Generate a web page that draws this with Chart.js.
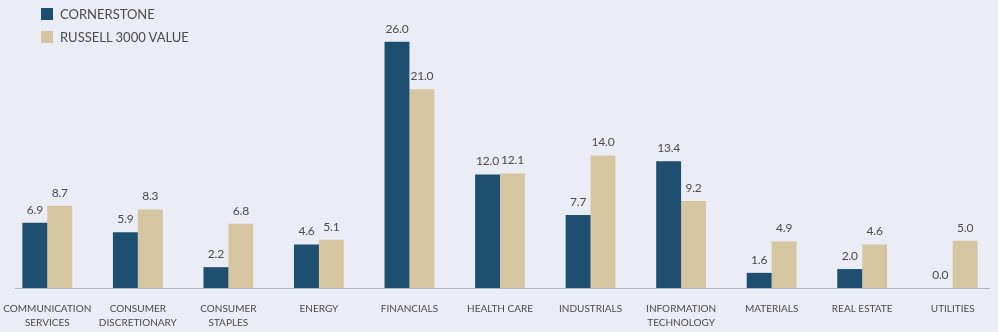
<!DOCTYPE html>
<html>
<head>
<meta charset="utf-8">
<script src="https://cdn.jsdelivr.net/npm/chart.js@4/dist/chart.umd.min.js"></script>
<style>
  html, body { margin: 0; padding: 0; background: #eaedf5; }
  #wrap { position: relative; width: 998px; height: 332px; }
  #legend { position: absolute; left: 41px; top: 8px; font-family: Lato, sans-serif; font-size: 13px; color: #4d4a48; }
  #legend div { height: 23px; display: flex; align-items: flex-start; }
  #legend span.box { display: inline-block; width: 12px; height: 12px; margin-right: 7px; }
  #legend span.txt { line-height: 13px; }
</style>
</head>
<body>
<div id="wrap">
  <canvas id="chart" width="998" height="332"></canvas>
  <div id="legend"></div>
</div>
<script>
const categories = [
  ['COMMUNICATION', 'SERVICES'],
  ['CONSUMER', 'DISCRETIONARY'],
  ['CONSUMER', 'STAPLES'],
  'ENERGY',
  'FINANCIALS',
  'HEALTH CARE',
  'INDUSTRIALS',
  ['INFORMATION', 'TECHNOLOGY'],
  'MATERIALS',
  'REAL ESTATE',
  'UTILITIES'
];
const cornerstone = [6.9, 5.9, 2.2, 4.6, 26.0, 12.0, 7.7, 13.4, 1.6, 2.0, 0.0];
const russell3000Value = [8.7, 8.3, 6.8, 5.1, 21.0, 12.1, 14.0, 9.2, 4.9, 4.6, 5.0];

const BLUE = '#1e4f70';
const TAN = '#d5c6a1';
const TEXT = '#4d4a48';

const valueLabels = {
  id: 'valueLabels',
  afterDatasetsDraw(chart) {
    const ctx = chart.ctx;
    ctx.save();
    ctx.font = '12px Lato, sans-serif';
    ctx.letterSpacing = '-0.2px';
    ctx.fillStyle = TEXT;
    ctx.textAlign = 'center';
    ctx.textBaseline = 'bottom';
    chart.data.datasets.forEach((ds, i) => {
      chart.getDatasetMeta(i).data.forEach((bar, j) => {
        ctx.fillText(ds.data[j].toFixed(1), bar.x, bar.y - 7);
      });
    });
    ctx.restore();
  }
};

const baseLine = {
  id: 'baseLine',
  beforeDatasetsDraw(chart) {
    const { ctx, chartArea } = chart;
    const y = chart.scales.y.getPixelForValue(0);
    ctx.save();
    ctx.strokeStyle = '#b4b6bc';
    ctx.lineWidth = 1;
    ctx.beginPath();
    ctx.moveTo(chartArea.left + 13, y + 0.5);
    ctx.lineTo(chartArea.right - 8, y + 0.5);
    ctx.stroke();
    ctx.restore();
  }
};

const chart = new Chart(document.getElementById('chart'), {
  type: 'bar',
  data: {
    labels: categories,
    datasets: [
      { label: 'CORNERSTONE', data: cornerstone, backgroundColor: BLUE },
      { label: 'RUSSELL 3000 VALUE', data: russell3000Value, backgroundColor: TAN }
    ]
  },
  options: {
    responsive: false,
    animation: false,
    layout: { padding: { top: 4, left: 2, right: 0, bottom: 0 } },
    datasets: { bar: { categoryPercentage: 0.55, barPercentage: 1 } },
    plugins: { legend: { display: false }, tooltip: { enabled: false } },
    scales: {
      x: {
        grid: { display: false, drawTicks: false, tickLength: 0 },
        border: { display: false },
        ticks: {
          padding: 14,
          maxRotation: 0,
          autoSkip: false,
          color: TEXT,
          font: { family: 'Lato, sans-serif', size: 10, lineHeight: 1.4 }
        },
        afterFit(scale) {
          scale.height = 44;
          scale.paddingLeft = 0;
          scale.paddingRight = 0;
        }
      },
      y: {
        display: false,
        min: 0,
        max: 30
      }
    }
  },
  plugins: [valueLabels, baseLine]
});

const legend = document.getElementById('legend');
chart.data.datasets.forEach(ds => {
  const row = document.createElement('div');
  const box = document.createElement('span');
  box.className = 'box';
  box.style.background = ds.backgroundColor;
  const txt = document.createElement('span');
  txt.className = 'txt';
  txt.textContent = ds.label;
  row.appendChild(box);
  row.appendChild(txt);
  legend.appendChild(row);
});
</script>
</body>
</html>
